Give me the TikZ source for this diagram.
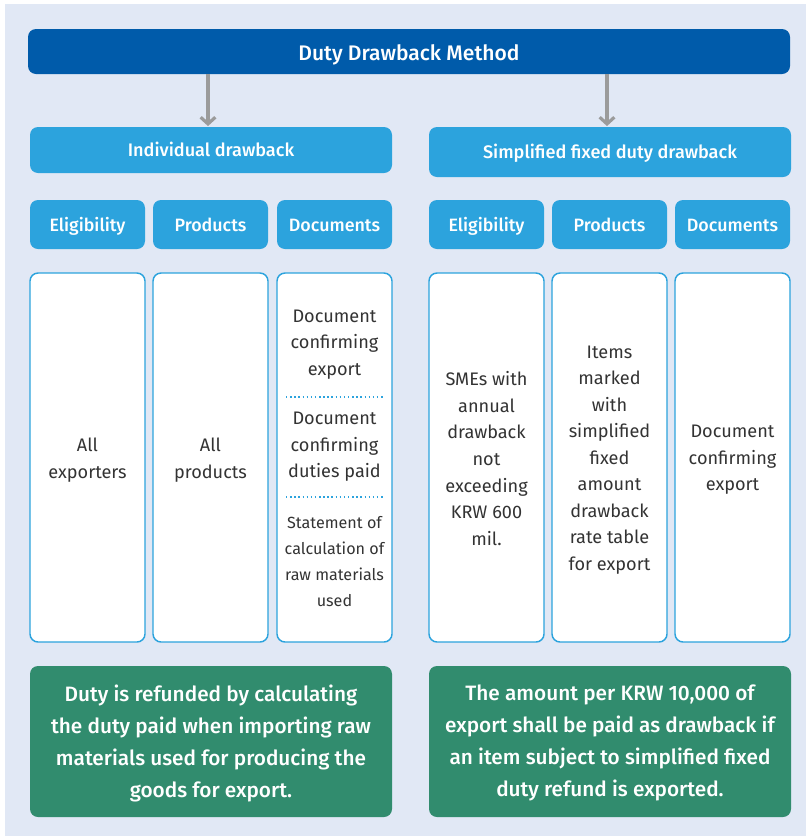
\documentclass[tikz,border=0pt]{standalone}
\usepackage{fontspec}
\setmainfont{Fira Sans}[BoldFont={Fira Sans Medium}]
\usetikzlibrary{arrows.meta}
\definecolor{bg}{HTML}{E1E8F5}
\definecolor{navy}{HTML}{005BAA}
\definecolor{sky}{HTML}{2CA3DD}
\definecolor{teal}{HTML}{318C6E}
\definecolor{txt}{HTML}{333333}
\definecolor{arr}{HTML}{9B9B9B}
\tikzset{
  box/.style={rectangle, rounded corners=6pt, inner sep=0pt, align=center},
  titlebox/.style={box, text height=15.5pt, text depth=2.5pt, fill=navy, text=white, font=\fontsize{15.8}{18}\selectfont\bfseries},
  subbox/.style={box, text height=12pt, text depth=2.5pt, fill=sky, text=white, font=\fontsize{13.6}{16}\selectfont\bfseries},
  headbox/.style={box, text height=12.5pt, text depth=2.5pt, fill=sky, text=white, font=\fontsize{13.4}{16}\selectfont\bfseries, minimum width=115*0.75pt, minimum height=49*0.75pt},
  whitebox/.style={box, fill=white, draw=sky, line width=1.1pt, minimum width=115*0.75pt, minimum height=369*0.75pt},
  bodytxt/.style={inner sep=0pt, align=center, text=txt, font=\fontsize{13.6}{19.9}\selectfont},
  smalltxt/.style={inner sep=0pt, align=center, text=txt, font=\fontsize{12.1}{19.7}\selectfont},
  greenbox/.style={box, fill=teal, minimum width=362*0.75pt, minimum height=151*0.75pt},
  greentxt/.style={inner sep=0pt, align=center, text=white, font=\fontsize{15.6}{24}\selectfont\bfseries},
  sep/.style={sky, line width=1.1pt, dotted},
  arrowline/.style={arr, line width=2.4pt, -{Straight Barb[length=5pt,width=11pt,line width=2.4pt]}}
}
\begin{document}
\begin{tikzpicture}[x=0.75pt,y=-0.75pt]
\useasboundingbox (0,0) rectangle (806,836);
\fill[bg] (5,4) rectangle (806,836);

\node[titlebox, minimum width=762*0.75pt, minimum height=45*0.75pt] (title) at (409,51.5) {Duty Drawback Method};

\node[subbox, minimum width=362*0.75pt, minimum height=46*0.75pt] (ind) at (211,150) {Individual drawback};
\node[subbox, minimum width=362*0.75pt, minimum height=50*0.75pt] (sim) at (610,152) {Simplified fixed duty drawback};

\coordinate (a1) at (208,0);
\coordinate (a2) at (607,0);
\draw[arrowline] (title.south -| a1) -- ([yshift=0.5pt]ind.north -| a1);
\draw[arrowline] (title.south -| a2) -- ([yshift=0.5pt]sim.north -| a2);

% headers
\node[headbox] (h1) at (87.5,224.5) {Eligibility};
\node[headbox] (h2) at (210.5,224.5) {Products};
\node[headbox] (h3) at (334.5,224.5) {Documents};
\node[headbox] (h4) at (486.5,224.5) {Eligibility};
\node[headbox] (h5) at (609.5,224.5) {Products};
\node[headbox] (h6) at (732.5,224.5) {Documents};

% white boxes
\node[whitebox] (w1) at (87.5,457.5) {};
\node[whitebox] (w2) at (210.5,457.5) {};
\node[whitebox] (w3) at (334.5,457.5) {};
\node[whitebox] (w4) at (486.5,457.5) {};
\node[whitebox] (w5) at (609.5,457.5) {};
\node[whitebox] (w6) at (732.5,457.5) {};

\node[bodytxt] (t1) at (87.5,460) {All\\exporters};
\node[bodytxt] (t2) at (210.5,460) {All\\products};
\node[bodytxt] (t3a) at (334.5,344.5) {Document\\confirming\\export};
\node[bodytxt] (t3b) at (334.5,447) {Document\\confirming\\duties paid};
\node[smalltxt] (t3c) at (334.5,561.5) {Statement of\\calculation of\\raw materials\\used};
\coordinate (s1l) at (286,397);
\coordinate (s1r) at (384,397);
\coordinate (s2l) at (286,497);
\coordinate (s2r) at (384,497);
\draw[sep] (s1l) -- (s1r);
\draw[sep] (s2l) -- (s2r);

\node[bodytxt] (t4) at (486.5,458.5) {SMEs with\\annual\\drawback\\not\\exceeding\\KRW 600\\mil.};
\node[bodytxt] (t5) at (609.5,460) {Items\\marked\\with\\simplified\\fixed\\amount\\drawback\\rate table\\for export};
\node[bodytxt] (t6) at (732.5,460) {Document\\confirming\\export};

% green boxes
\node[greenbox] (g1) at (211,741.5) {};
\node[greenbox] (g2) at (610,741.5) {};
\node[greentxt] (g1t) at (211,743) {Duty is refunded by calculating\\the duty paid when importing raw\\materials used for producing the\\goods for export.};
\node[greentxt] (g2t) at (610,743) {The amount per KRW 10,000 of\\export shall be paid as drawback if\\an item subject to simplified fixed\\duty refund is exported.};
\end{tikzpicture}
\end{document}
